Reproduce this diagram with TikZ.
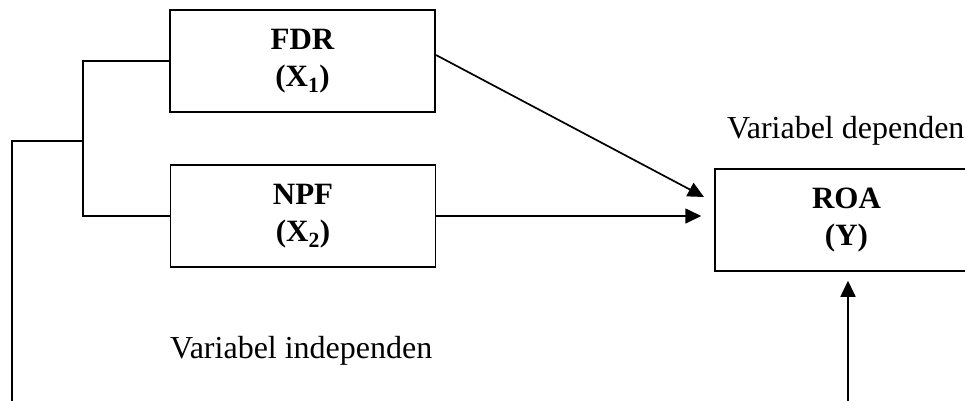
\documentclass[tikz,border=0pt]{standalone}
\usepackage{fontspec}
\setmainfont{Liberation Serif}
\usetikzlibrary{arrows.meta}
\begin{document}
\begin{tikzpicture}[x=1pt,y=-1pt,
  box/.style={draw,line width=1.5pt,minimum width=265pt,minimum height=102pt,inner sep=0pt,align=center,font=\fontsize{31}{37}\selectfont\bfseries},
  conn/.style={line width=1.7pt},
  arr/.style={conn,-{Triangle[length=16pt,width=15pt]}},
  lbl/.style={inner sep=0pt,font=\fontsize{32}{37}\selectfont}]
\useasboundingbox (0,0) rectangle (965,400);
\clip (0,0) rectangle (965,400);
\node[box] (fdr) at (302.5,61) {FDR\\(X\textsubscript{1})};
\node[box] (npf) at (303,216) {NPF\\(X\textsubscript{2})};
\node[box,minimum width=263pt] (roa) at (846.5,220) {ROA\\(Y)};
\node[lbl,anchor=base west] (dep) at (727,138) {Variabel dependen};
\node[lbl,anchor=base west] (indep) at (170,358) {Variabel independen};
\coordinate (j) at (83,141);
\coordinate (lb) at (12,141);
\coordinate (lbot) at (12,402);
\coordinate (fdrout) at (436,55);
\coordinate (fdrtip) at (704,197);
\coordinate (bot) at (848,402);
\draw[conn] (fdr.west) -| (j) |- (npf.west);
\draw[conn] (j) -- (lb) -- (lbot);
\draw[arr] (fdrout) -- (fdrtip);
\draw[arr,shorten >=13pt] (npf.east) -- (npf.east -| roa.west);
\draw[arr,shorten >=9pt] (bot) -- (roa.south -| bot);
\end{tikzpicture}
\end{document}
